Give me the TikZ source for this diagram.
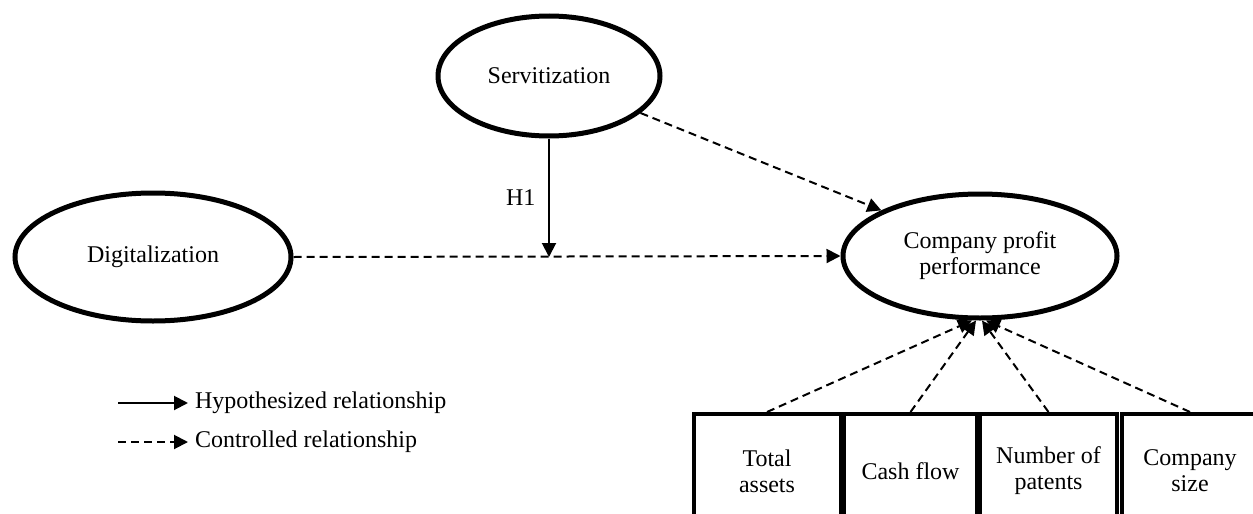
\documentclass[tikz,border=0pt]{standalone}
\usepackage{fontspec}
\setmainfont{Liberation Serif}
\usetikzlibrary{arrows.meta,shapes.geometric}

\begin{document}
\begin{tikzpicture}[x=0.5pt,y=-0.5pt,>={Triangle[length=7pt,width=7pt]},
                    font=\fontsize{12pt}{13pt}\selectfont]
  \tikzstyle{construct}=[ellipse,draw,line width=2.5pt,inner sep=0pt,align=center]
  \tikzstyle{control}=[rectangle,draw,line width=2pt,anchor=north,
                       minimum height=57pt,align=center]
  \tikzstyle{hyp}=[->,line width=1pt]
  \tikzstyle{ctrl}=[->,line width=1pt,dash pattern=on 4pt off 2.5pt]

  \useasboundingbox (0,0) rectangle (1253,514);

  \node[construct,minimum width=111pt,minimum height=60pt] (serv) at (549,76)  {Servitization};
  \node[construct,minimum width=138pt,minimum height=64pt] (dig)  at (153,257) {Digitalization};
  \node[construct,minimum width=137pt,minimum height=62pt] (cpp)  at (980,256) {Company profit\\performance};

  \node[control,minimum width=73.5pt] (tot) at (767,412)    {Total\\assets};
  \node[control,minimum width=66.5pt] (cash) at (910.5,412) {Cash flow};
  \node[control,minimum width=68.5pt] (pat) at (1048.5,412) {Number of\\patents};
  \node[control,minimum width=68pt]   (size) at (1190,412)  {Company\\size};

  \coordinate (h1) at (serv.south |- dig.east);

  \path (serv.south) edge[hyp] node[left,xshift=-3pt] {H1} (h1)
        (dig.east)   edge[ctrl] (cpp.west)
        (serv)       edge[ctrl] (cpp.north west)

        (tot.north)  edge[ctrl] ([xshift=-4pt]cpp.south)
        (cash.north) edge[ctrl] ([xshift=-2pt]cpp.south)
        (pat.north)  edge[ctrl] ([xshift=1pt]cpp.south)
        (size.north) edge[ctrl] ([xshift=3pt]cpp.south);

  % legend
  \coordinate (lh) at (118,403);
  \coordinate (lc) at (118,442);
  \node[anchor=west] (hyptext)  at (188,403) {Hypothesized relationship};
  \node[anchor=west] (ctrltext) at (188,442) {Controlled relationship};
  \path (lh) edge[hyp]  (hyptext.west)
        (lc) edge[ctrl] (ctrltext.west);

\end{tikzpicture}
\end{document}
